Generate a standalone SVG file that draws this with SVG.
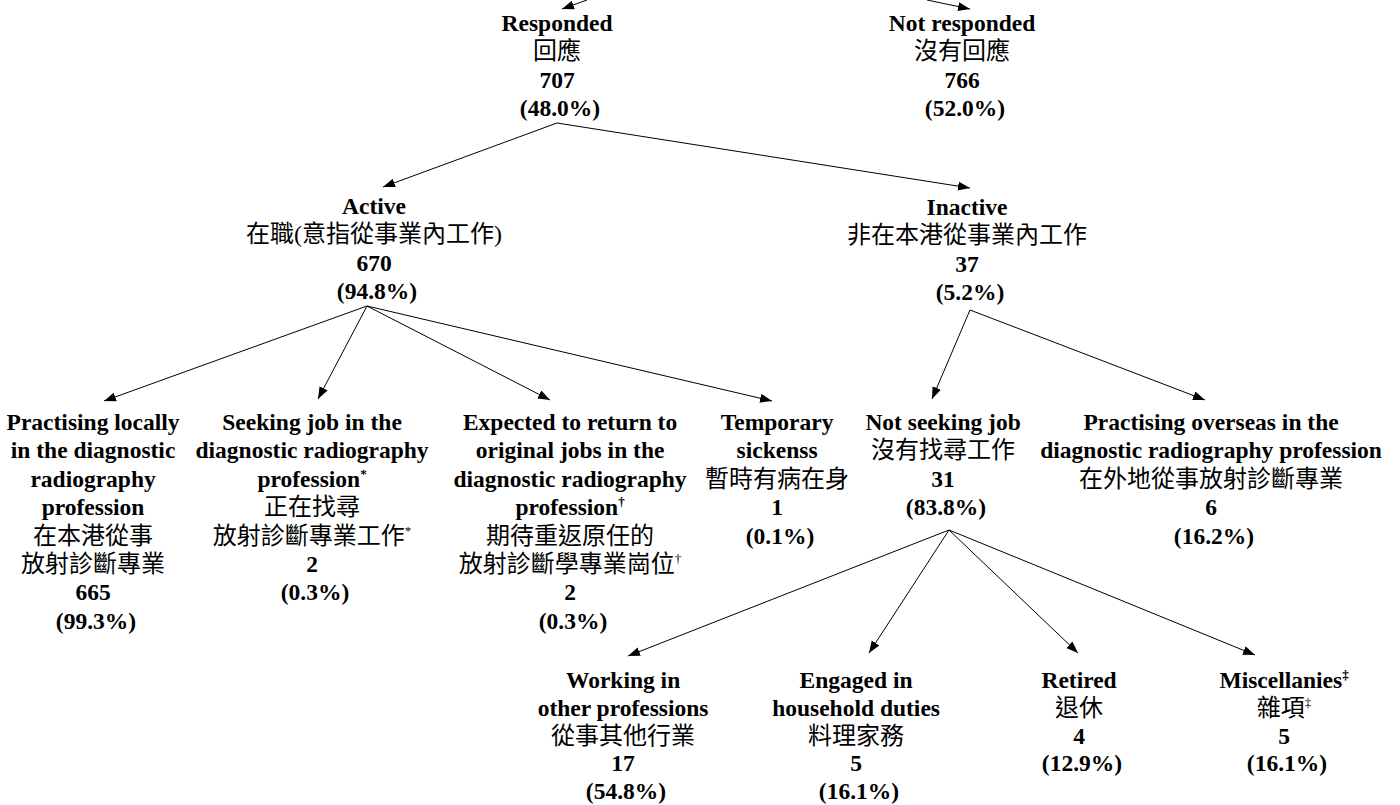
<svg xmlns="http://www.w3.org/2000/svg" width="1400" height="805" viewBox="0 0 1400 805">
<style>
  text { font-family: "Liberation Serif", "Times New Roman", serif; font-weight: bold; font-size: 23.5px; text-anchor: middle; fill: #000; }
  .c { font-family: "Liberation Serif", "Noto Sans CJK TC", "Noto Sans CJK SC", sans-serif; font-weight: normal; font-size: 24px; }
  .s { font-size: 13px; }
  .conn line { stroke: #000; stroke-width: 1; fill: none; marker-end: url(#arr); }
</style>
<defs>
  <marker id="arr" markerUnits="userSpaceOnUse" markerWidth="13" markerHeight="10" refX="12" refY="4.5" orient="auto">
    <path d="M0,0 L12,4.5 L0,9 Z" fill="#000"/>
  </marker>
</defs>
<rect width="1400" height="805" fill="#fff"/>
<g class="conn" id="connectors">
  <line x1="587" y1="0" x2="562" y2="9"/>
  <line x1="927" y1="0" x2="970" y2="9"/>
  <line x1="557" y1="123" x2="383" y2="187"/>
  <line x1="557" y1="123" x2="970" y2="188"/>
  <line x1="367" y1="306" x2="104" y2="401"/>
  <line x1="367" y1="306" x2="318" y2="399"/>
  <line x1="367" y1="306" x2="550" y2="400"/>
  <line x1="367" y1="306" x2="772" y2="401"/>
  <line x1="970" y1="310" x2="932" y2="399"/>
  <line x1="970" y1="310" x2="1205" y2="400"/>
  <line x1="949" y1="530" x2="628" y2="656"/>
  <line x1="949" y1="530" x2="869" y2="653"/>
  <line x1="949" y1="530" x2="1078" y2="653"/>
  <line x1="949" y1="530" x2="1255" y2="655"/>
</g>
<g id="responded"><text>
  <tspan x="560" y="31">Responded</tspan>
  <tspan x="560" y="59.4" class="c">回應</tspan>
  <tspan x="560" y="87.8">707</tspan>
  <tspan x="560" y="116.2">(48.0%)</tspan>
</text></g>
<g id="not-responded"><text>
  <tspan x="965" y="31">Not responded</tspan>
  <tspan x="965" y="59.4" class="c">沒有回應</tspan>
  <tspan x="965" y="87.8">766</tspan>
  <tspan x="965" y="116.2">(52.0%)</tspan>
</text></g>
<g id="active"><text>
  <tspan x="377" y="214">Active</tspan>
  <tspan x="377" y="242.4" class="c">在職(意指從事業內工作)</tspan>
  <tspan x="377" y="270.8">670</tspan>
  <tspan x="377" y="299.2">(94.8%)</tspan>
</text></g>
<g id="inactive"><text>
  <tspan x="970" y="215">Inactive</tspan>
  <tspan x="970" y="243.4" class="c">非在本港從事業內工作</tspan>
  <tspan x="970" y="271.8">37</tspan>
  <tspan x="970" y="300.2">(5.2%)</tspan>
</text></g>
<g id="practising-locally"><text>
  <tspan x="96" y="430">Practising locally</tspan>
  <tspan x="96" y="458.4">in the diagnostic</tspan>
  <tspan x="96" y="486.8">radiography</tspan>
  <tspan x="96" y="515.2">profession</tspan>
  <tspan x="96" y="543.6" class="c">在本港從事</tspan>
  <tspan x="96" y="572" class="c">放射診斷專業</tspan>
  <tspan x="96" y="600.4">665</tspan>
  <tspan x="96" y="628.8">(99.3%)</tspan>
</text></g>
<g id="seeking-job"><text>
  <tspan x="315" y="430">Seeking job in the</tspan>
  <tspan x="315" y="458.4">diagnostic radiography</tspan>
  <tspan x="315" y="486.8">profession<tspan class="s" dy="-9">*</tspan></tspan>
  <tspan x="315" y="515.2" class="c">正在找尋</tspan>
  <tspan x="315" y="543.6" class="c">放射診斷專業工作<tspan class="s" dy="-9">*</tspan></tspan>
  <tspan x="315" y="572">2</tspan>
  <tspan x="315" y="600.4">(0.3%)</tspan>
</text></g>
<g id="expected-return"><text>
  <tspan x="573" y="430">Expected to return to</tspan>
  <tspan x="573" y="458.4">original jobs in the</tspan>
  <tspan x="573" y="486.8">diagnostic radiography</tspan>
  <tspan x="573" y="515.2">profession<tspan class="s" dy="-9">†</tspan></tspan>
  <tspan x="573" y="543.6" class="c">期待重返原任的</tspan>
  <tspan x="573" y="572" class="c">放射診斷學專業崗位<tspan class="s" dy="-9">†</tspan></tspan>
  <tspan x="573" y="600.4">2</tspan>
  <tspan x="573" y="628.8">(0.3%)</tspan>
</text></g>
<g id="temporary-sickness"><text>
  <tspan x="780" y="430">Temporary</tspan>
  <tspan x="780" y="458.4">sickenss</tspan>
  <tspan x="780" y="486.8" class="c">暫時有病在身</tspan>
  <tspan x="780" y="515.2">1</tspan>
  <tspan x="780" y="543.6">(0.1%)</tspan>
</text></g>
<g id="not-seeking-job"><text>
  <tspan x="946" y="430">Not seeking job</tspan>
  <tspan x="946" y="458.4" class="c">沒有找尋工作</tspan>
  <tspan x="946" y="486.8">31</tspan>
  <tspan x="946" y="515.2">(83.8%)</tspan>
</text></g>
<g id="practising-overseas"><text>
  <tspan x="1214" y="430">Practising overseas in the</tspan>
  <tspan x="1214" y="458.4">diagnostic radiography profession</tspan>
  <tspan x="1214" y="486.8" class="c">在外地從事放射診斷專業</tspan>
  <tspan x="1214" y="515.2">6</tspan>
  <tspan x="1214" y="543.6">(16.2%)</tspan>
</text></g>
<g id="other-professions"><text>
  <tspan x="626" y="688">Working in</tspan>
  <tspan x="626" y="715.75">other professions</tspan>
  <tspan x="626" y="743.5" class="c">從事其他行業</tspan>
  <tspan x="626" y="771.25">17</tspan>
  <tspan x="626" y="799">(54.8%)</tspan>
</text></g>
<g id="household-duties"><text>
  <tspan x="859" y="688">Engaged in</tspan>
  <tspan x="859" y="715.75">household duties</tspan>
  <tspan x="859" y="743.5" class="c">料理家務</tspan>
  <tspan x="859" y="771.25">5</tspan>
  <tspan x="859" y="799">(16.1%)</tspan>
</text></g>
<g id="retired"><text>
  <tspan x="1082" y="688">Retired</tspan>
  <tspan x="1082" y="715.75" class="c">退休</tspan>
  <tspan x="1082" y="743.5">4</tspan>
  <tspan x="1082" y="771.25">(12.9%)</tspan>
</text></g>
<g id="miscellanies"><text>
  <tspan x="1287" y="688">Miscellanies<tspan class="s" dy="-9">‡</tspan></tspan>
  <tspan x="1287" y="715.75" class="c">雜項<tspan class="s" dy="-9">‡</tspan></tspan>
  <tspan x="1287" y="743.5">5</tspan>
  <tspan x="1287" y="771.25">(16.1%)</tspan>
</text></g>
</svg>
